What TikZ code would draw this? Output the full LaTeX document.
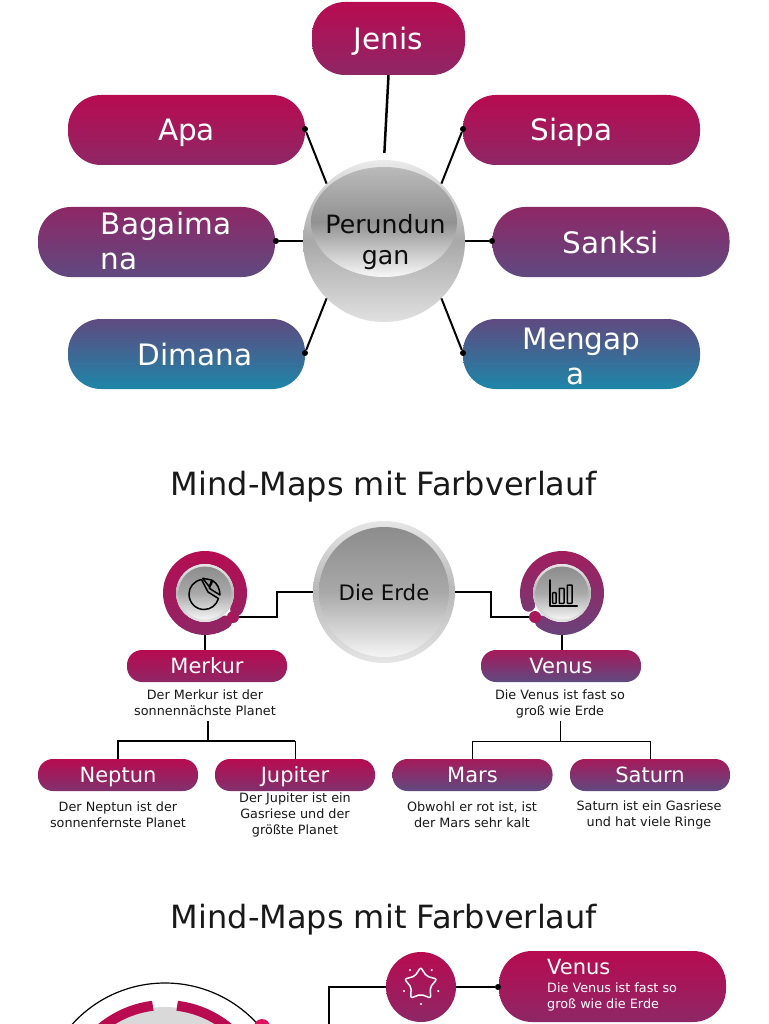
\documentclass[tikz,border=0pt]{standalone}
\usepackage{fontspec}
\usetikzlibrary{shapes.geometric}
\setmainfont{DejaVu Sans}
\definecolor{cA}{HTML}{B80B50}
\definecolor{cB}{HTML}{8E2766}
\definecolor{cC}{HTML}{5F4A80}
\definecolor{cD}{HTML}{1D86A8}
\definecolor{cR}{HTML}{A61A5B}
\definecolor{cP}{HTML}{E0115F}
\newcommand{\ringpath}[2]{(#1:42) arc[start angle=#1,end angle=#2,radius=42]
  arc[start angle=#2,end angle=#2+180,radius=6.5]
  arc[start angle=#2,end angle=#1,radius=29]
  arc[start angle=#1+180,end angle=#1+360,radius=6.5] -- cycle}
\tikzset{
  pillbig/.style={rectangle,rounded corners=33pt,minimum width=237pt,minimum height=70pt,inner sep=0pt,text=white,font=\fontsize{29.5}{35}\selectfont,align=center},
  pillsmall/.style={rectangle,rounded corners=15pt,minimum width=160pt,minimum height=32pt,inner sep=0pt,text=white,font=\fontsize{21}{25}\selectfont,text depth=0pt},
  gAB/.style={top color=cA,bottom color=cB},
  gAC/.style={top color=cA,bottom color=cB!70!cC},
  gBC/.style={top color=cB,bottom color=cC},
  gCD/.style={top color=cC,bottom color=cD},
  gRC/.style={top color=cR,bottom color=cC},
  bigtxt/.style={text=white,font=\fontsize{29.5}{35}\selectfont,align=center,inner sep=0pt},
  oneline/.style={text depth=0pt},
  small/.style={font=\fontsize{12.8}{16}\selectfont,align=center,inner sep=0pt,text=black!90},
  title/.style={font=\fontsize{32}{38}\selectfont,text=black!90,inner sep=0pt},
  spoke/.style={draw=black,line width=2pt},
  ball/.style={circle,fill=black,inner sep=0pt,minimum size=6pt},
  link/.style={draw=black,line width=2pt},
  thinlink/.style={draw=black,line width=1pt},
  rim/.style={circle,inner sep=0pt,top color=black!10,bottom color=black!10,middle color=black!28},
  glass/.style={circle,inner sep=0pt,top color=black!45,bottom color=black!4,middle color=black!34},
  icon/.style={draw=black,line width=1.5pt,line join=round,line cap=round},
}
\begin{document}
\begin{tikzpicture}[x=1pt,y=-1pt]
\clip (0,0) rectangle (768,1024);
\fill[white] (0,0) rectangle (768,1024);
% top map
\node[pillbig,gAB,oneline,minimum width=153pt,minimum height=73pt] (jenis) at (388.5,38.5) {Jenis};
\node[pillbig,gAB,oneline] (apa) at (186.5,130) {Apa};
\node[pillbig,gAB] (siapa) at (581.5,130) {};
\node[bigtxt,oneline] (siapat) at (571.5,129) {Siapa};
\node[pillbig,gBC] (bag) at (156.5,242) {};
\node[bigtxt,align=left] (bagt) at (166,241) {Bagaima\\na};
\node[pillbig,gBC,oneline] (sanksi) at (611,242) {Sanksi};
\node[pillbig,gCD] (dimana) at (186.5,354) {};
\node[bigtxt,oneline] (dimanat) at (195,354.5) {Dimana};
\node[pillbig,gCD] (mengapa) at (581.5,354) {};
\node[bigtxt] (mengapat) at (581.5,356) {Mengap\\a\hspace*{11pt}};
\node[ball] (dApa) at (305,129) {};
\node[ball] (dSiapa) at (463,129) {};
\node[ball] (dBag) at (276,241) {};
\node[ball] (dSanksi) at (492,241) {};
\node[ball] (dDimana) at (305,353) {};
\node[ball] (dMengapa) at (463,353) {};
\node[circle,minimum size=162pt,inner sep=0pt,top color=black!8,bottom color=black!12,middle color=black!34] (hub) at (384,241) {};
\node[ellipse,minimum width=146pt,minimum height=110pt,inner sep=0pt,top color=black!27,bottom color=black!3,middle color=black!43] (hubin) at (384,222) {};
\node[font=\fontsize{25.2}{31}\selectfont,align=center,text=black!95,inner sep=0pt] (hubt) at (385.5,242) {Perundun\\gan};
\draw[spoke,line width=2.5pt,shorten >=7pt] (jenis.south) -- (hub.north);
\draw[spoke] (dApa) -- (hub.135);
\draw[spoke] (dSiapa) -- (hub.45);
\draw[spoke] (dBag) -- (hub.west);
\draw[spoke] (dSanksi) -- (hub.east);
\draw[spoke] (dDimana) -- (hub.225);
\draw[spoke] (dMengapa) -- (hub.315);
% second map
\node[title] (t1) at (384,486.5) {Mind-Maps mit Farbverlauf};
\node[rim,minimum size=142pt] (erdeo) at (384,592) {};
\node[glass,minimum size=130pt] (erde) at (384,592) {};
\node[font=\fontsize{21.3}{25}\selectfont,text=black!95,inner sep=0pt] (erdet) at (384,593) {Die Erde};
\node[circle,minimum size=84pt,inner sep=0pt] (merkring) at (205,593) {};
\begin{scope}[shift={(205,593)},y=1pt]
\path[top color=cA,bottom color=cB] \ringpath{-27}{305};
\end{scope}
\node[rim,minimum size=58pt] (merko) at (205,593) {};
\node[glass,minimum size=53pt] (merki) at (205,593) {};
\begin{scope}[icon]
\draw (201.5,579.5) .. controls (194,581) and (189,587) .. (189,594) .. controls (189,603) and (196,609.5) .. (204,609.5) .. controls (211,609.5) and (216.5,605) .. (218.5,598.5) -- (208,592) -- cycle;
\draw (202.7,578.3) -- (211.7,580) -- (209.3,586.7) -- cycle;
\draw (212.7,580.7) .. controls (217,583) and (220,589) .. (220,595) -- (209.3,588.3) -- cycle;
\end{scope}
\node[circle,minimum size=84pt,inner sep=0pt] (venring) at (562,593) {};
\begin{scope}[shift={(562,593)},y=1pt]
\path[top color=cR,bottom color=cC!85!cB] \ringpath{235}{560};
\end{scope}
\node[rim,minimum size=58pt] (veno) at (562,593) {};
\node[glass,minimum size=53pt] (veni) at (562,593) {};
\begin{scope}[icon]
\draw (550,580) -- (550,606) -- (577.3,606);
\draw[rounded corners=0.5pt] (552.7,592.7) rectangle (556,603.3);
\draw[rounded corners=0.5pt] (559.3,588.3) rectangle (564,603.3);
\draw[rounded corners=0.5pt] (567.3,585) rectangle (572,603.3);
\end{scope}
\node[circle,fill=cR,inner sep=0pt,minimum size=12pt] (merkdot) at (233,617) {};
\node[circle,fill=cR,inner sep=0pt,minimum size=12pt] (vendot) at (535,617) {};
\coordinate (elbL) at (277,617);
\coordinate (elbR) at (491,617);
\draw[link] (erdeo.west) -| (elbL) -- (merkdot);
\draw[link] (erdeo.east) -| (elbR) -- (vendot);
\node[pillsmall,gAB] (merkur) at (207,666) {Merkur};
\node[pillsmall,gRC] (venus) at (561,666) {Venus};
\draw[link] (merkring.south) -- (merkring.south |- merkur.north);
\draw[link] (venring.south) -- (venring.south |- venus.north);
\node[small] (tmerkur) at (205,703) {Der Merkur ist der\\sonnennächste Planet};
\node[small] (tvenus) at (560,703.5) {Die Venus ist fast so\\groß wie Erde};
\node[pillsmall,gAC] (neptun) at (118,775) {Neptun};
\node[pillsmall,gAC] (jupiter) at (295,775) {Jupiter};
\node[pillsmall,gRC] (mars) at (472.5,775) {Mars};
\node[pillsmall,gRC] (saturn) at (650,775) {Saturn};
\coordinate (busL) at (207.5,741);
\coordinate (busLa) at (207.5,721);
\coordinate (busR) at (560.5,741);
\coordinate (busRa) at (560.5,721);
\draw[link] (busLa) -- (busL);
\draw[link] (neptun.north) -- (neptun.north |- busL) -- (jupiter.north |- busL);
\draw[thinlink] (jupiter.north |- busL) -- (jupiter.north);
\draw[thinlink] (busRa) -- (busR);
\draw[thinlink] (mars.north) -- (mars.north |- busR) -- (saturn.north |- busR) -- (saturn.north);
\node[small] (tneptun) at (118,814.5) {Der Neptun ist der\\sonnenfernste Planet};
\node[small] (tjupiter) at (295,815) {Der Jupiter ist ein\\Gasriese und der\\größte Planet};
\node[small] (tmars) at (472,814.5) {Obwohl er rot ist, ist\\der Mars sehr kalt};
\node[small] (tsaturn) at (649,814.5) {Saturn ist ein Gasriese\\und hat viele Ringe};
% third map
\node[title] (t2) at (384,919.5) {Mind-Maps mit Farbverlauf};
\node[circle,draw=black,line width=1.2pt,minimum size=250pt,inner sep=0pt] (orbit) at (165,1108) {};
\node[circle,fill=black!15,minimum size=196pt,inner sep=0pt] (disc) at (165,1105) {};
\begin{scope}[shift={(165,1105)},y=1pt]
\draw[cA,line width=10pt] (83:100) arc[start angle=83,end angle=30,radius=100];
\draw[cA,line width=10pt] (97:100) arc[start angle=97,end angle=150,radius=100];
\end{scope}
\node[circle,fill=cP,minimum size=16pt,inner sep=0pt] (odot) at (262,1027) {};
\node[circle,minimum size=70pt,inner sep=0pt,gAB] (star) at (421,987) {};
\begin{scope}[shift={(420.7,984.3)},y=1pt,draw=white,line width=1.5pt]
\draw[rounded corners=2pt,line join=round] (90:17) -- (126:10) -- (162:17) -- (198:10) -- (234:17) -- (270:10) -- (306:17) -- (342:10) -- (18:17) -- (54:10) -- cycle;
\end{scope}
\foreach \px/\py in {410/970,431.7/970,404/991,438.3/991,421/1004}{\fill[white] (\px,\py) circle[radius=1.2pt];}
\node[pillbig,gAB,minimum width=227pt,minimum height=71pt] (venusb) at (612.5,986.5) {};
\node[ball] (dStar) at (498,987) {};
\coordinate (down) at (329,1030);
\draw[thinlink,line width=1.4pt] (star.west) -| (down);
\draw[thinlink,line width=1.6pt] (star.east) -- (dStar);
\node[anchor=west,text=white,font=\fontsize{21}{25}\selectfont,inner sep=0pt] (venusbt) at (547,967) {Venus};
\node[anchor=west,text=white,font=\fontsize{12.8}{15.5}\selectfont,align=left,inner sep=0pt] (venusbs) at (547,997) {Die Venus ist fast so\\groß wie die Erde};
\end{tikzpicture}
\end{document}
